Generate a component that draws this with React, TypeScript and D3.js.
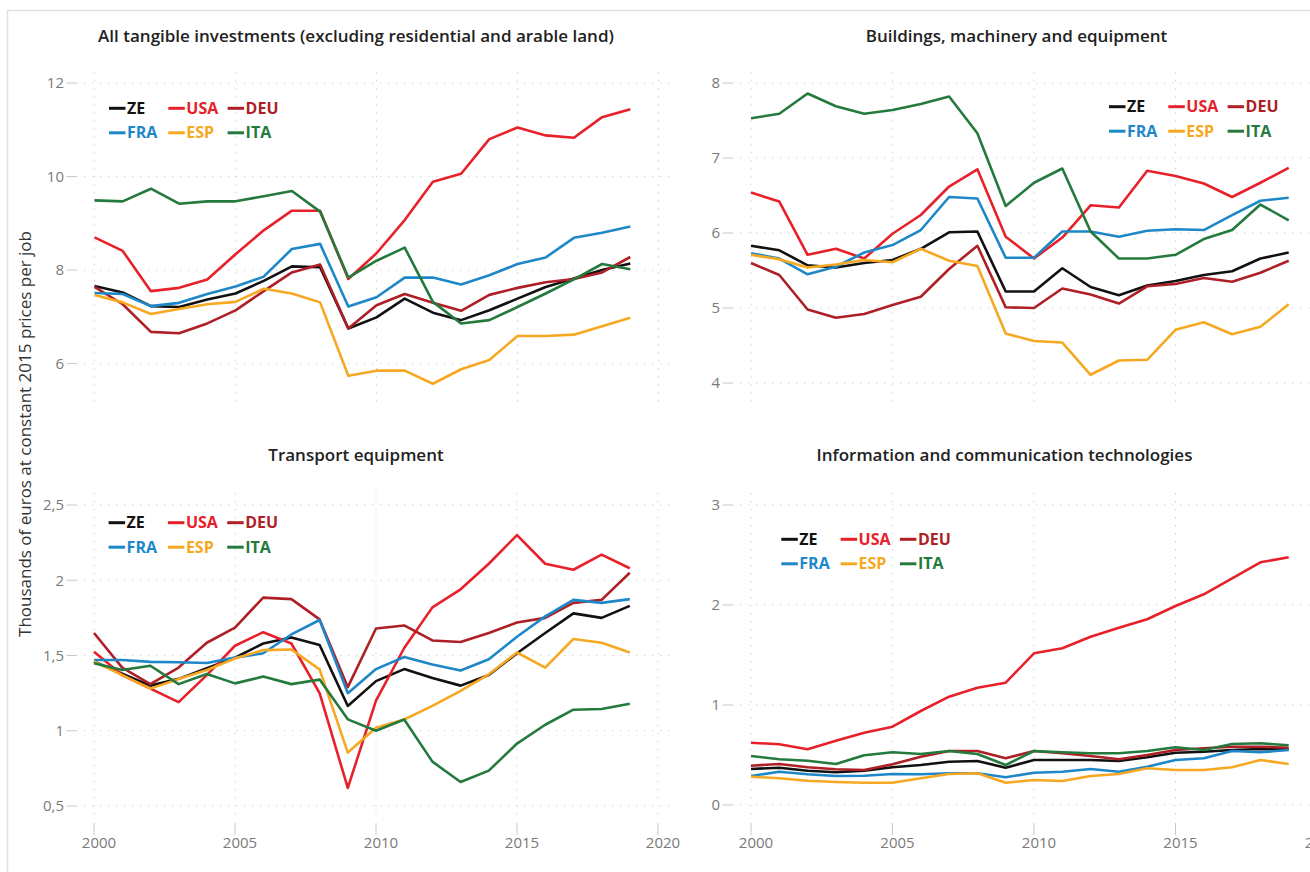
import React from 'react';
import * as d3 from 'd3';

// years on the x axis
const years = d3.range(2000, 2020);
const countries = ['ZE', 'USA', 'DEU', 'FRA', 'ESP', 'ITA'];
const colors = ['#111111', '#e8202a', '#ae1f26', '#1d87c8', '#f7a823', '#247a3c'];
const xTicks = [2000, 2005, 2010, 2015, 2020];

// All tangible investments (rows follow `countries`)
const tangibleZE = [7.66, 7.52, 7.23, 7.21, 7.37, 7.5, 7.77, 8.08, 8.06, 6.75, 6.99, 7.39, 7.09, 6.93, 7.14, 7.39, 7.64, 7.82, 8.0, 8.14];
const tangibleUSA = [8.7, 8.41, 7.55, 7.62, 7.8, 8.34, 8.85, 9.27, 9.27, 7.81, 8.36, 9.07, 9.89, 10.06, 10.8, 11.05, 10.88, 10.83, 11.27, 11.44];
const tangibleDEU = [7.64, 7.27, 6.68, 6.65, 6.86, 7.14, 7.55, 7.95, 8.12, 6.75, 7.25, 7.49, 7.3, 7.13, 7.47, 7.62, 7.74, 7.81, 7.95, 8.28];
const tangibleFRA = [7.51, 7.49, 7.23, 7.3, 7.49, 7.65, 7.86, 8.45, 8.56, 7.22, 7.42, 7.84, 7.84, 7.69, 7.89, 8.13, 8.27, 8.69, 8.8, 8.93];
const tangibleESP = [7.47, 7.31, 7.06, 7.17, 7.27, 7.32, 7.6, 7.5, 7.31, 5.74, 5.85, 5.85, 5.57, 5.88, 6.08, 6.59, 6.59, 6.62, 6.8, 6.98];
const tangibleITA = [9.49, 9.47, 9.74, 9.42, 9.47, 9.47, 9.58, 9.69, 9.25, 7.84, 8.2, 8.48, 7.32, 6.86, 6.93, 7.21, 7.5, 7.8, 8.13, 8.02];

// Buildings, machinery and equipment
const buildZE = [5.83, 5.77, 5.57, 5.54, 5.6, 5.64, 5.79, 6.01, 6.02, 5.22, 5.22, 5.53, 5.28, 5.17, 5.3, 5.36, 5.44, 5.49, 5.66, 5.74];
const buildUSA = [6.54, 6.42, 5.71, 5.79, 5.66, 5.99, 6.24, 6.62, 6.85, 5.95, 5.66, 5.94, 6.37, 6.34, 6.83, 6.76, 6.66, 6.48, 6.67, 6.87];
const buildDEU = [5.6, 5.44, 4.98, 4.87, 4.92, 5.04, 5.15, 5.52, 5.83, 5.01, 5.0, 5.26, 5.18, 5.06, 5.29, 5.32, 5.4, 5.35, 5.47, 5.63];
const buildFRA = [5.73, 5.66, 5.45, 5.55, 5.74, 5.84, 6.04, 6.48, 6.46, 5.67, 5.67, 6.02, 6.02, 5.95, 6.03, 6.05, 6.04, 6.24, 6.43, 6.47];
const buildESP = [5.71, 5.65, 5.54, 5.58, 5.64, 5.61, 5.79, 5.63, 5.56, 4.66, 4.56, 4.54, 4.11, 4.3, 4.31, 4.71, 4.81, 4.65, 4.75, 5.05];
const buildITA = [7.53, 7.59, 7.86, 7.69, 7.59, 7.64, 7.72, 7.82, 7.33, 6.36, 6.67, 6.86, 6.02, 5.66, 5.66, 5.71, 5.92, 6.04, 6.38, 6.17];

// Transport equipment
const transZE = [1.46, 1.38, 1.3, 1.345, 1.415, 1.485, 1.58, 1.62, 1.57, 1.165, 1.33, 1.41, 1.35, 1.3, 1.37, 1.515, 1.65, 1.78, 1.75, 1.83];
const transUSA = [1.525, 1.37, 1.28, 1.19, 1.37, 1.565, 1.655, 1.58, 1.25, 0.62, 1.2, 1.55, 1.82, 1.94, 2.11, 2.3, 2.11, 2.07, 2.17, 2.08];
const transDEU = [1.65, 1.42, 1.31, 1.42, 1.585, 1.685, 1.885, 1.875, 1.74, 1.29, 1.68, 1.7, 1.6, 1.59, 1.65, 1.72, 1.75, 1.85, 1.87, 2.05];
const transFRA = [1.47, 1.47, 1.458, 1.455, 1.45, 1.486, 1.515, 1.64, 1.736, 1.25, 1.41, 1.49, 1.44, 1.4, 1.475, 1.625, 1.76, 1.87, 1.85, 1.875];
const transESP = [1.46, 1.37, 1.28, 1.344, 1.404, 1.48, 1.536, 1.54, 1.408, 0.855, 1.02, 1.075, 1.165, 1.265, 1.375, 1.52, 1.42, 1.61, 1.585, 1.52];
const transITA = [1.448, 1.404, 1.432, 1.31, 1.377, 1.315, 1.36, 1.31, 1.34, 1.076, 1.0, 1.075, 0.795, 0.66, 0.735, 0.915, 1.04, 1.14, 1.145, 1.18];

// Information and communication technologies
const ictZE = [0.36, 0.373, 0.343, 0.327, 0.343, 0.377, 0.4, 0.433, 0.44, 0.373, 0.45, 0.45, 0.45, 0.44, 0.477, 0.523, 0.533, 0.55, 0.56, 0.557];
const ictUSA = [0.623, 0.607, 0.557, 0.643, 0.723, 0.783, 0.94, 1.083, 1.173, 1.223, 1.517, 1.567, 1.683, 1.773, 1.857, 1.99, 2.107, 2.267, 2.427, 2.477];
const ictDEU = [0.393, 0.41, 0.377, 0.357, 0.35, 0.407, 0.483, 0.54, 0.54, 0.467, 0.54, 0.517, 0.49, 0.457, 0.5, 0.55, 0.567, 0.583, 0.583, 0.573];
const ictFRA = [0.29, 0.333, 0.307, 0.29, 0.293, 0.31, 0.307, 0.317, 0.317, 0.277, 0.323, 0.333, 0.36, 0.333, 0.383, 0.45, 0.467, 0.54, 0.527, 0.55];
const ictESP = [0.283, 0.267, 0.243, 0.23, 0.223, 0.223, 0.267, 0.31, 0.317, 0.223, 0.25, 0.24, 0.29, 0.31, 0.367, 0.35, 0.35, 0.377, 0.45, 0.41];
const ictITA = [0.49, 0.457, 0.443, 0.41, 0.497, 0.527, 0.51, 0.54, 0.51, 0.4, 0.54, 0.527, 0.517, 0.517, 0.54, 0.577, 0.55, 0.61, 0.617, 0.597];

const titles = [
  'All tangible investments (excluding residential and arable land)',
  'Buildings, machinery and equipment',
  'Transport equipment',
  'Information and communication technologies',
];
const yTicksTangible = [6, 8, 10, 12];
const yTicksBuild = [4, 5, 6, 7, 8];
const yTicksTrans = [0.5, 1, 1.5, 2, 2.5];
const yTicksIct = [0, 1, 2, 3];

const FONT = '"Open Sans", "Noto Sans", sans-serif';
const fmt = (v: number) => String(v).replace('.', ',');

type PanelProps = {
  title: string;
  titleX: number;
  titleY: number;
  series: number[][];
  yTicks: number[];
  yDomain: [number, number];
  left: number;
  right: number;
  top: number;
  bottom: number;
  x2000: number;
  x2020: number;
  legendX: number;
  legendY: number;
  xLabels: boolean;
};

const Panel = (p: PanelProps) => {
  const x = d3.scaleLinear().domain([2000, 2020]).range([p.x2000, p.x2020]);
  const y = d3.scaleLinear().domain(p.yDomain).range([p.bottom, p.top]);
  const line = d3
    .line<number>()
    .x((_, i) => x(years[i]))
    .y((d) => y(d));
  const grid = '#d4d4d4';
  return (
    <g>
      <text x={p.titleX} y={p.titleY} textAnchor="middle" dy="0.35em" fontSize={17} fontWeight={600} fill="#222">
        {p.title}
      </text>
      {xTicks.map((t) => (
        <line key={'vx' + t} x1={x(t)} x2={x(t)} y1={p.top} y2={p.bottom} stroke={grid} strokeDasharray="1.5,6.5" />
      ))}
      {p.yTicks.map((t) => (
        <g key={'hy' + t}>
          <line x1={p.left} x2={p.right} y1={y(t)} y2={y(t)} stroke={grid} strokeDasharray="1.5,6.5" />
          <line x1={p.left - 9.5} x2={p.left} y1={y(t)} y2={y(t)} stroke="#c8c8c8" />
          <text x={p.left - 12} y={y(t)} dy="0.35em" textAnchor="end" fontSize={15} fill="#7a7a7a">
            {fmt(t)}
          </text>
        </g>
      ))}
      {p.xLabels &&
        xTicks.map((t) => (
          <g key={'xl' + t}>
            <line x1={x(t)} x2={x(t)} y1={823} y2={835} stroke="#c8c8c8" />
            <text x={x(t) + 5} y={843} dy="0.35em" textAnchor="middle" fontSize={15} fill="#7a7a7a">
              {t}
            </text>
          </g>
        ))}
      {p.series.map((s, i) => (
        <path key={countries[i]} d={line(s) || ''} fill="none" stroke={colors[i]} strokeWidth={2.6} strokeLinejoin="round" />
      ))}
      {countries.map((c, i) => {
        const lx = p.legendX + (i % 3) * 59.3;
        const ly = p.legendY + Math.floor(i / 3) * 24.5;
        return (
          <g key={'lg' + c}>
            <line x1={lx} x2={lx + 16.5} y1={ly} y2={ly} stroke={colors[i]} strokeWidth={3} />
            <text x={lx + 18} y={ly} dy="0.35em" fontSize={16} fontWeight={700} fill={colors[i]}>
              {c}
            </text>
          </g>
        );
      })}
    </g>
  );
};

export default function App() {
  return (
    <svg
      width={1310}
      height={872}
      style={{ position: 'absolute', left: 0, top: 0, display: 'block', background: '#fff' }}
      fontFamily={FONT}
    >
      <rect x={7.5} y={10.5} width={1320} height={880} fill="#fff" stroke="#e2e2e2" strokeWidth={1.5} />
      <Panel
        title={titles[0]}
        titleX={356}
        titleY={36}
        series={[tangibleZE, tangibleUSA, tangibleDEU, tangibleFRA, tangibleESP, tangibleITA]}
        yTicks={yTicksTangible}
        yDomain={[5.18, 12.235]}
        left={76}
        right={673}
        top={72}
        bottom={402}
        x2000={94.5}
        x2020={658.5}
        legendX={109}
        legendY={108.3}
        xLabels={false}
      />
      <Panel
        title={titles[1]}
        titleX={1016.5}
        titleY={36}
        series={[buildZE, buildUSA, buildDEU, buildFRA, buildESP, buildITA]}
        yTicks={yTicksBuild}
        yDomain={[3.747, 8.147]}
        left={732}
        right={1320}
        top={72}
        bottom={402}
        x2000={751}
        x2020={1317}
        legendX={1109}
        legendY={106.7}
        xLabels={false}
      />
      <Panel
        title={titles[2]}
        titleX={356}
        titleY={455}
        series={[transZE, transUSA, transDEU, transFRA, transESP, transITA]}
        yTicks={yTicksTrans}
        yDomain={[0.427, 2.58]}
        left={76}
        right={673}
        top={493}
        bottom={817}
        x2000={94}
        x2020={658}
        legendX={108.6}
        legendY={522.7}
        xLabels={true}
      />
      <Panel
        title={titles[3]}
        titleX={1004.5}
        titleY={455}
        series={[ictZE, ictUSA, ictDEU, ictFRA, ictESP, ictITA]}
        yTicks={yTicksIct}
        yDomain={[-0.12, 3.12]}
        left={732}
        right={1320}
        top={493}
        bottom={817}
        x2000={751}
        x2020={1317}
        legendX={781.3}
        legendY={539.3}
        xLabels={true}
      />
      <text
        transform="translate(25,434) rotate(-90)"
        textAnchor="middle"
        dy="0.35em"
        fontSize={17}
        fill="#333"
      >
        Thousands of euros at constant 2015 prices per job
      </text>
    </svg>
  );
}
